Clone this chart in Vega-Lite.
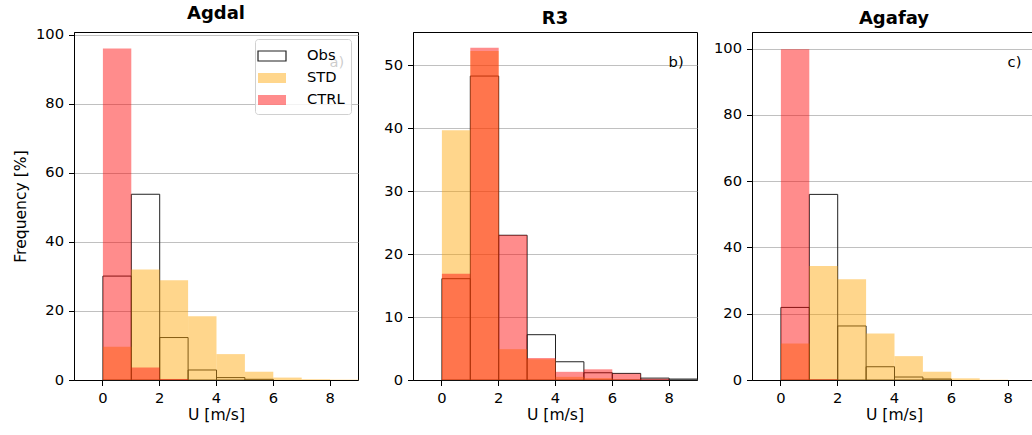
{
  "$schema": "https://vega.github.io/schema/vega-lite/v6.json",
  "padding": {"left": 12, "top": 4, "right": 0, "bottom": 0},
  "datasets": {
    "hist": [
      {"station": "Agdal", "series": "Obs", "u_lo": 0, "u_hi": 1, "freq": 30.1},
      {"station": "Agdal", "series": "Obs", "u_lo": 1, "u_hi": 2, "freq": 53.8},
      {"station": "Agdal", "series": "Obs", "u_lo": 2, "u_hi": 3, "freq": 12.3},
      {"station": "Agdal", "series": "Obs", "u_lo": 3, "u_hi": 4, "freq": 2.9},
      {"station": "Agdal", "series": "Obs", "u_lo": 4, "u_hi": 5, "freq": 0.7},
      {"station": "Agdal", "series": "Obs", "u_lo": 5, "u_hi": 6, "freq": 0.2},
      {"station": "Agdal", "series": "STD", "u_lo": 0, "u_hi": 1, "freq": 9.6},
      {"station": "Agdal", "series": "STD", "u_lo": 1, "u_hi": 2, "freq": 32.0},
      {"station": "Agdal", "series": "STD", "u_lo": 2, "u_hi": 3, "freq": 28.9},
      {"station": "Agdal", "series": "STD", "u_lo": 3, "u_hi": 4, "freq": 18.5},
      {"station": "Agdal", "series": "STD", "u_lo": 4, "u_hi": 5, "freq": 7.5},
      {"station": "Agdal", "series": "STD", "u_lo": 5, "u_hi": 6, "freq": 2.4},
      {"station": "Agdal", "series": "STD", "u_lo": 6, "u_hi": 7, "freq": 0.7},
      {"station": "Agdal", "series": "STD", "u_lo": 7, "u_hi": 8, "freq": 0.25},
      {"station": "Agdal", "series": "STD", "u_lo": 8, "u_hi": 9, "freq": 0.1},
      {"station": "Agdal", "series": "CTRL", "u_lo": 0, "u_hi": 1, "freq": 96.0},
      {"station": "Agdal", "series": "CTRL", "u_lo": 1, "u_hi": 2, "freq": 3.6},
      {"station": "Agdal", "series": "CTRL", "u_lo": 2, "u_hi": 3, "freq": 0.3},

      {"station": "R3", "series": "Obs", "u_lo": 0, "u_hi": 1, "freq": 16.1},
      {"station": "R3", "series": "Obs", "u_lo": 1, "u_hi": 2, "freq": 48.3},
      {"station": "R3", "series": "Obs", "u_lo": 2, "u_hi": 3, "freq": 23.0},
      {"station": "R3", "series": "Obs", "u_lo": 3, "u_hi": 4, "freq": 7.2},
      {"station": "R3", "series": "Obs", "u_lo": 4, "u_hi": 5, "freq": 2.9},
      {"station": "R3", "series": "Obs", "u_lo": 5, "u_hi": 6, "freq": 1.15},
      {"station": "R3", "series": "Obs", "u_lo": 6, "u_hi": 7, "freq": 1.05},
      {"station": "R3", "series": "Obs", "u_lo": 7, "u_hi": 8, "freq": 0.3},
      {"station": "R3", "series": "Obs", "u_lo": 8, "u_hi": 9, "freq": 0.15},
      {"station": "R3", "series": "STD", "u_lo": 0, "u_hi": 1, "freq": 39.7},
      {"station": "R3", "series": "STD", "u_lo": 1, "u_hi": 2, "freq": 52.3},
      {"station": "R3", "series": "STD", "u_lo": 2, "u_hi": 3, "freq": 4.9},
      {"station": "R3", "series": "STD", "u_lo": 3, "u_hi": 4, "freq": 3.3},
      {"station": "R3", "series": "STD", "u_lo": 4, "u_hi": 5, "freq": 0.5},
      {"station": "R3", "series": "STD", "u_lo": 5, "u_hi": 6, "freq": 0.3},
      {"station": "R3", "series": "STD", "u_lo": 6, "u_hi": 7, "freq": 0.1},
      {"station": "R3", "series": "CTRL", "u_lo": 0, "u_hi": 1, "freq": 16.9},
      {"station": "R3", "series": "CTRL", "u_lo": 1, "u_hi": 2, "freq": 52.8},
      {"station": "R3", "series": "CTRL", "u_lo": 2, "u_hi": 3, "freq": 23.0},
      {"station": "R3", "series": "CTRL", "u_lo": 3, "u_hi": 4, "freq": 3.5},
      {"station": "R3", "series": "CTRL", "u_lo": 4, "u_hi": 5, "freq": 1.3},
      {"station": "R3", "series": "CTRL", "u_lo": 5, "u_hi": 6, "freq": 1.7},
      {"station": "R3", "series": "CTRL", "u_lo": 6, "u_hi": 7, "freq": 1.0},
      {"station": "R3", "series": "CTRL", "u_lo": 7, "u_hi": 8, "freq": 0.2},

      {"station": "Agafay", "series": "Obs", "u_lo": 0, "u_hi": 1, "freq": 21.9},
      {"station": "Agafay", "series": "Obs", "u_lo": 1, "u_hi": 2, "freq": 56.0},
      {"station": "Agafay", "series": "Obs", "u_lo": 2, "u_hi": 3, "freq": 16.3},
      {"station": "Agafay", "series": "Obs", "u_lo": 3, "u_hi": 4, "freq": 4.0},
      {"station": "Agafay", "series": "Obs", "u_lo": 4, "u_hi": 5, "freq": 0.9},
      {"station": "Agafay", "series": "Obs", "u_lo": 5, "u_hi": 6, "freq": 0.3},
      {"station": "Agafay", "series": "STD", "u_lo": 0, "u_hi": 1, "freq": 11.0},
      {"station": "Agafay", "series": "STD", "u_lo": 1, "u_hi": 2, "freq": 34.4},
      {"station": "Agafay", "series": "STD", "u_lo": 2, "u_hi": 3, "freq": 30.4},
      {"station": "Agafay", "series": "STD", "u_lo": 3, "u_hi": 4, "freq": 14.0},
      {"station": "Agafay", "series": "STD", "u_lo": 4, "u_hi": 5, "freq": 7.2},
      {"station": "Agafay", "series": "STD", "u_lo": 5, "u_hi": 6, "freq": 2.5},
      {"station": "Agafay", "series": "STD", "u_lo": 6, "u_hi": 7, "freq": 0.5},
      {"station": "Agafay", "series": "STD", "u_lo": 7, "u_hi": 8, "freq": 0.1},
      {"station": "Agafay", "series": "CTRL", "u_lo": 0, "u_hi": 1, "freq": 99.8},
      {"station": "Agafay", "series": "CTRL", "u_lo": 1, "u_hi": 2, "freq": 0.2}
    ],
    "labels": [
      {"station": "Agdal", "tag": "a)"},
      {"station": "R3", "tag": "b)"},
      {"station": "Agafay", "tag": "c)"}
    ]
  },
  "hconcat": [
    {
      "title": "Agdal",
      "width": 284,
      "height": 348,
      "layer": [
        {
          "data": {"name": "hist"},
          "transform": [{"filter": "datum.station === 'Agdal'"}],
          "mark": {"type": "bar", "binSpacing": 0, "strokeWidth": 1},
          "encoding": {
            "x": {"field": "u_lo", "type": "quantitative", "bin": {"binned": true}, "scale": {"domain": [-1, 9], "nice": false, "zero": false}, "axis": {"values": [0, 2, 4, 6, 8], "title": "U [m/s]"}},
            "x2": {"field": "u_hi"},
            "y": {"field": "freq", "type": "quantitative", "stack": null, "scale": {"domain": [0, 100.8], "nice": false}, "axis": {"values": [0, 20, 40, 60, 80, 100], "title": "Frequency [%]"}},
            "fill": {"field": "series", "type": "nominal", "scale": {"domain": ["Obs", "STD", "CTRL"], "range": ["rgba(255,255,255,0)", "rgba(255,165,0,0.45)", "rgba(255,0,0,0.45)"]},
              "legend": {"title": null, "orient": "top-right", "offset": 7, "padding": 6, "fillColor": "rgba(255,255,255,0.8)", "strokeColor": "#d0d0d0", "cornerRadius": 3, "symbolType": "M-1.4,-0.5H1.4V0.5H-1.4Z", "symbolSize": 400, "labelFontSize": 14.7, "rowPadding": 3, "symbolStrokeWidth": 1.2, "labelOffset": 24}},
            "stroke": {"field": "series", "type": "nominal", "scale": {"domain": ["Obs", "STD", "CTRL"], "range": ["#222222", "rgba(0,0,0,0)", "rgba(0,0,0,0)"]},
              "legend": {"title": null, "orient": "top-right", "offset": 7, "padding": 6, "fillColor": "rgba(255,255,255,0.8)", "strokeColor": "#d0d0d0", "cornerRadius": 3, "symbolType": "M-1.4,-0.5H1.4V0.5H-1.4Z", "symbolSize": 400, "labelFontSize": 14.7, "rowPadding": 3, "symbolStrokeWidth": 1.2, "labelOffset": 24}}
          }
        },
        {
          "data": {"name": "labels"},
          "transform": [{"filter": "datum.station === 'Agdal'"}],
          "mark": {"type": "text", "align": "left", "baseline": "alphabetic", "fontSize": 14.7, "color": "#000"},
          "encoding": {"x": {"datum": 8}, "y": {"datum": 90.7}, "text": {"field": "tag"}}
        }
      ]
    },
    {
      "title": "R3",
      "width": 284,
      "height": 348,
      "layer": [
        {
          "data": {"name": "hist"},
          "transform": [{"filter": "datum.station === 'R3'"}],
          "mark": {"type": "bar", "binSpacing": 0, "strokeWidth": 1},
          "encoding": {
            "x": {"field": "u_lo", "type": "quantitative", "bin": {"binned": true}, "scale": {"domain": [-1, 9], "nice": false, "zero": false}, "axis": {"values": [0, 2, 4, 6, 8], "title": "U [m/s]"}},
            "x2": {"field": "u_hi"},
            "y": {"field": "freq", "type": "quantitative", "stack": null, "scale": {"domain": [0, 55.3], "nice": false}, "axis": {"values": [0, 10, 20, 30, 40, 50], "title": null}},
            "fill": {"field": "series", "type": "nominal", "scale": {"domain": ["Obs", "STD", "CTRL"], "range": ["rgba(255,255,255,0)", "rgba(255,165,0,0.45)", "rgba(255,0,0,0.45)"]}, "legend": null},
            "stroke": {"field": "series", "type": "nominal", "scale": {"domain": ["Obs", "STD", "CTRL"], "range": ["#222222", "rgba(0,0,0,0)", "rgba(0,0,0,0)"]}, "legend": null}
          }
        },
        {
          "data": {"name": "labels"},
          "transform": [{"filter": "datum.station === 'R3'"}],
          "mark": {"type": "text", "align": "left", "baseline": "alphabetic", "fontSize": 14.7, "color": "#000"},
          "encoding": {"x": {"datum": 8}, "y": {"datum": 49.8}, "text": {"field": "tag"}}
        }
      ]
    },
    {
      "title": "Agafay",
      "width": 284,
      "height": 348,
      "layer": [
        {
          "data": {"name": "hist"},
          "transform": [{"filter": "datum.station === 'Agafay'"}],
          "mark": {"type": "bar", "binSpacing": 0, "strokeWidth": 1},
          "encoding": {
            "x": {"field": "u_lo", "type": "quantitative", "bin": {"binned": true}, "scale": {"domain": [-1, 9], "nice": false, "zero": false}, "axis": {"values": [0, 2, 4, 6, 8], "title": "U [m/s]"}},
            "x2": {"field": "u_hi"},
            "y": {"field": "freq", "type": "quantitative", "stack": null, "scale": {"domain": [0, 105], "nice": false}, "axis": {"values": [0, 20, 40, 60, 80, 100], "title": null}},
            "fill": {"field": "series", "type": "nominal", "scale": {"domain": ["Obs", "STD", "CTRL"], "range": ["rgba(255,255,255,0)", "rgba(255,165,0,0.45)", "rgba(255,0,0,0.45)"]}, "legend": null},
            "stroke": {"field": "series", "type": "nominal", "scale": {"domain": ["Obs", "STD", "CTRL"], "range": ["#222222", "rgba(0,0,0,0)", "rgba(0,0,0,0)"]}, "legend": null}
          }
        },
        {
          "data": {"name": "labels"},
          "transform": [{"filter": "datum.station === 'Agafay'"}],
          "mark": {"type": "text", "align": "left", "baseline": "alphabetic", "fontSize": 14.7, "color": "#000"},
          "encoding": {"x": {"datum": 8}, "y": {"datum": 94.5}, "text": {"field": "tag"}}
        }
      ]
    }
  ],
  "spacing": 55,
  "bounds": "flush",
  "resolve": {
    "scale": {"fill": "independent", "stroke": "independent"},
    "legend": {"fill": "independent", "stroke": "independent"}
  },
  "config": {
    "font": "DejaVu Sans",
    "view": {"stroke": "#000000", "strokeWidth": 1},
    "title": {"fontSize": 18, "fontWeight": "bold", "color": "#000000", "offset": 4},
    "axis": {
      "labelFontSize": 14.7,
      "titleFontSize": 15.6,
      "titleFontWeight": "normal",
      "labelColor": "#000000",
      "titleColor": "#000000",
      "tickColor": "#000000",
      "domainColor": "#000000",
      "tickSize": 5.5,
      "labelPadding": 5,
      "gridColor": "#b0b0b0",
      "gridWidth": 0.8,
      "zindex": 1
    },
    "axisY": {"titlePadding": 7},
    "axisX": {"titlePadding": 2},
    "legend": {"labelColor": "#000000"}
  }
}
